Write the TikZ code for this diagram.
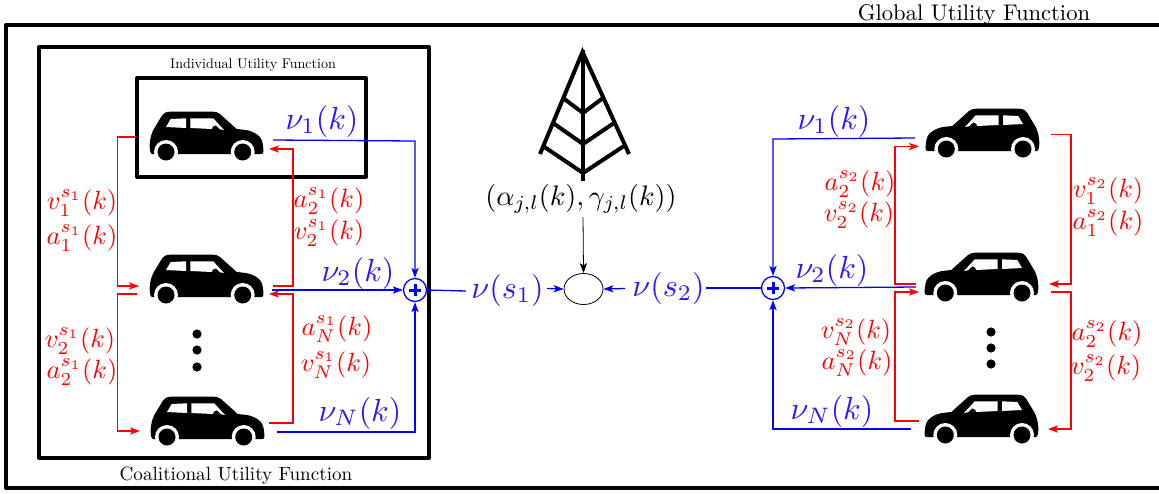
\documentclass[tikz,border=0pt]{standalone}
\usetikzlibrary{arrows.meta,shapes.geometric}
\definecolor{nublue}{RGB}{50,20,255}
\tikzset{
  x=0.5pt,y=-0.5pt,
  frame/.style={draw=black,line width=2pt,line join=round},
  redline/.style={draw=red,line width=0.65pt,-{Stealth[length=5pt,width=3.6pt,inset=1.2pt]}},
  blueline/.style={draw=blue,line width=0.65pt,-{Stealth[length=5pt,width=3.6pt,inset=1.2pt]}},
  bluenotip/.style={draw=blue,line width=0.65pt},
  blacklink/.style={draw=black,line width=0.4pt,-{Stealth[length=5pt,width=3.6pt,inset=1.2pt]}},
  tower/.style={draw=black,line width=2pt},
  nulabel/.style={text=nublue,scale=1.6,inner sep=0pt},
  rlabel/.style={text=red,scale=1.32,inner sep=0pt},
  junction/.style={circle,draw=blue,line width=0.65pt,minimum size=11.5pt,inner sep=0pt},
  dotmark/.style={circle,fill=black,inner sep=0pt,minimum size=4.6pt},
  carshape/.pic={
    \fill[black] (2,42) .. controls (0,41) and (-0.3,38) .. (-0.3,33)
      .. controls (0,26) and (1.5,22) .. (3.3,18)
      -- (11.7,4) .. controls (14,1) and (16,-0.3) .. (20,-0.3)
      -- (63,-0.3) .. controls (66,-0.3) and (68,0.5) .. (70,2)
      -- (86.7,17) .. controls (92,17.5) and (97,18) .. (100,19)
      .. controls (106,21) and (110,24) .. (111.7,28)
      .. controls (113,32) and (113.5,36) .. (113.3,40)
      .. controls (113.3,41.5) and (112.5,42) .. (111,42) -- cycle;
    \fill[white] (16,40) circle[radius=12] (92.7,40) circle[radius=12];
    \fill[black] (16,40) circle[radius=8.5] (92.7,40) circle[radius=8.5];
    \fill[white] (16,15) -- (20.7,7) -- (36,6.3) -- (36,16) -- cycle;
    \fill[white] (40.3,6.3) -- (63.3,6.3) -- (74,18) -- (70,17.3)
      -- (66,13.3) -- (62.7,14.7) -- (62,17) -- (40.3,16) -- cycle;
  }
}
\begin{document}
\begin{tikzpicture}
\useasboundingbox (0,0) rectangle (1159,493);
% frames
\draw[frame] (1159,25) -- (6,25) -- (6,488) -- (1159,488);
\draw[frame] (39,47) rectangle (429,458);
\draw[frame] (137,78) rectangle (366,177);
\node[inner sep=0pt,scale=1.13] (globaltitle) at (974,14.5) {Global Utility Function};
\node[inner sep=0pt,scale=0.957] (coaltitle) at (236,475.5) {Coalitional Utility Function};
\node[inner sep=0pt,scale=0.70] (indtitle) at (253,65) {Individual Utility Function};
% cars
\pic at (150,112) {carshape};
\pic at (150,255) {carshape};
\pic at (151,397) {carshape};
\pic[xscale=-1] at (1039,109) {carshape};
\pic[xscale=-1] at (1038,253) {carshape};
\pic[xscale=-1] at (1038,395) {carshape};
% dots
\node[dotmark] (dl1) at (197,334) {};
\node[dotmark] (dl2) at (197,350) {};
\node[dotmark] (dl3) at (197,367) {};
\node[dotmark] (dr1) at (991,332) {};
\node[dotmark] (dr2) at (991,348) {};
\node[dotmark] (dr3) at (991,364) {};
% tower
\draw[tower] (540,154) -- (582.5,52) -- (629,154);
\draw[tower] (583,50) -- (583,181);
\draw[tower] (563,98) -- (583,113) -- (603,98);
\draw[tower] (553,123) -- (583,144) -- (614,123);
\draw[tower] (543,146) -- (583,173) -- (624,146);
% junction nodes
\node[junction] (sumL) at (415,290) {};
\node[junction] (sumR) at (773,288) {};
\node[ellipse,draw=black,line width=0.4pt,minimum width=19.5pt,minimum height=15.5pt,inner sep=0pt] (bs) at (583.5,289) {};
\draw[blue,line width=1.5pt] ([xshift=-2.9pt]sumL.center) -- ([xshift=2.9pt]sumL.center) ([yshift=-2.9pt]sumL.center) -- ([yshift=2.9pt]sumL.center);
\draw[blue,line width=1.5pt] ([xshift=-2.9pt]sumR.center) -- ([xshift=2.9pt]sumR.center) ([yshift=-2.9pt]sumR.center) -- ([yshift=2.9pt]sumR.center);
% labels
\node[nulabel] (nuA) at (322,121) {$\nu_1(k)$};
\node[nulabel] (nuB) at (358,273) {$\nu_2(k)$};
\node[nulabel] (nuC) at (360,413) {$\nu_N(k)$};
\node[nulabel] (nuD) at (834,121) {$\nu_1(k)$};
\node[nulabel] (nuE) at (832,270) {$\nu_2(k)$};
\node[nulabel] (nuF) at (832,411) {$\nu_N(k)$};
\node[nulabel] (nus1) at (507.5,290) {$\nu(s_1)$};
\node[nulabel] (nus2) at (668.5,288) {$\nu(s_2)$};
\node[inner sep=0pt,scale=1.41] (alpha) at (581,198.5) {$(\alpha_{j,l}(k),\gamma_{j,l}(k))$};
\node[rlabel] (l1) at (82,203) {$v_1^{s_1}(k)$};
\node[rlabel] (l2) at (82,238) {$a_1^{s_1}(k)$};
\node[rlabel] (l3) at (329,201) {$a_2^{s_1}(k)$};
\node[rlabel] (l4) at (329,233) {$v_2^{s_1}(k)$};
\node[rlabel] (l5) at (80,341) {$v_2^{s_1}(k)$};
\node[rlabel] (l6) at (82,372) {$a_2^{s_1}(k)$};
\node[rlabel] (l7) at (337,329) {$a_N^{s_1}(k)$};
\node[rlabel] (l8) at (336,365) {$v_N^{s_1}(k)$};
\node[rlabel] (r1) at (860,184) {$a_2^{s_2}(k)$};
\node[rlabel] (r2) at (859,215) {$v_2^{s_2}(k)$};
\node[rlabel] (r3) at (1108,191) {$v_1^{s_2}(k)$};
\node[rlabel] (r4) at (1108,223) {$a_1^{s_2}(k)$};
\node[rlabel] (r5) at (856,332) {$v_N^{s_2}(k)$};
\node[rlabel] (r6) at (857,363) {$a_N^{s_2}(k)$};
\node[rlabel] (r7) at (1107,334) {$a_2^{s_2}(k)$};
\node[rlabel] (r8) at (1106,368) {$v_2^{s_2}(k)$};
% connector ends
\coordinate (aA) at (136,137); \coordinate (aB) at (139,286);
\coordinate (bA) at (273,286); \coordinate (bB) at (269,149);
\coordinate (cA) at (137,294); \coordinate (cB) at (140,431);
\coordinate (dA) at (269,423); \coordinate (dB) at (269,294);
\coordinate (eA) at (273,140); \coordinate (eB) at (272,290); \coordinate (eC) at (277,432);
\coordinate (fA) at (915,138); \coordinate (fB) at (916,287); \coordinate (fC) at (911,429);
\coordinate (gA) at (916,284); \coordinate (gB) at (919,146.5);
\coordinate (hA) at (1051,134.5); \coordinate (hB) at (1049,284);
\coordinate (iA) at (919,421); \coordinate (iB) at (919,292);
\coordinate (jA) at (1051,292); \coordinate (jB) at (1048,429);
\coordinate (alphaEnd) at (583,217);
\coordinate (s1a) at (466,291); \coordinate (s1b) at (547,288.5);
\coordinate (s2a) at (625,288.5); \coordinate (s2b) at (706,288);
% red connectors
\draw[redline] (aA) -- (117.5,137) -- (117.5,286) -- (aB);
\draw[redline] (bA) -- (293,286) -- (293,149) -- (bB);
\draw[redline] (cA) -- (117.5,294) -- (117.5,431) -- (cB);
\draw[redline] (dA) -- (293,423) -- (293,294) -- (dB);
\draw[redline] (gA) -- (895,284) -- (895,146.5) -- (gB);
\draw[redline] (hA) -- (1071,134.5) -- (1071,284) -- (hB);
\draw[redline] (iA) -- (895,421) -- (895,292) -- (iB);
\draw[redline] (jA) -- (1071,292) -- (1071,429) -- (jB);
% blue connectors
\draw[blueline] (eA) -- (415,141) -- (sumL.north);
\draw[blueline] (eB) -- (sumL.west);
\draw[blueline] (eC) -- (415,432) -- (sumL.south);
\draw[blueline] (fA) -- (773,139) -- (sumR.north);
\draw[blueline] (fB) -- (sumR.east);
\draw[blueline] (fC) -- (773,429) -- (sumR.south);
\draw[bluenotip] (sumL.east) -- (s1a);
\draw[blueline] (s1b) -- (bs.west);
\draw[blueline] (s2a) -- (bs.east);
\draw[bluenotip] (s2b) -- (sumR.west);
\draw[blacklink] (alphaEnd) -- (bs.north);
\end{tikzpicture}
\end{document}
